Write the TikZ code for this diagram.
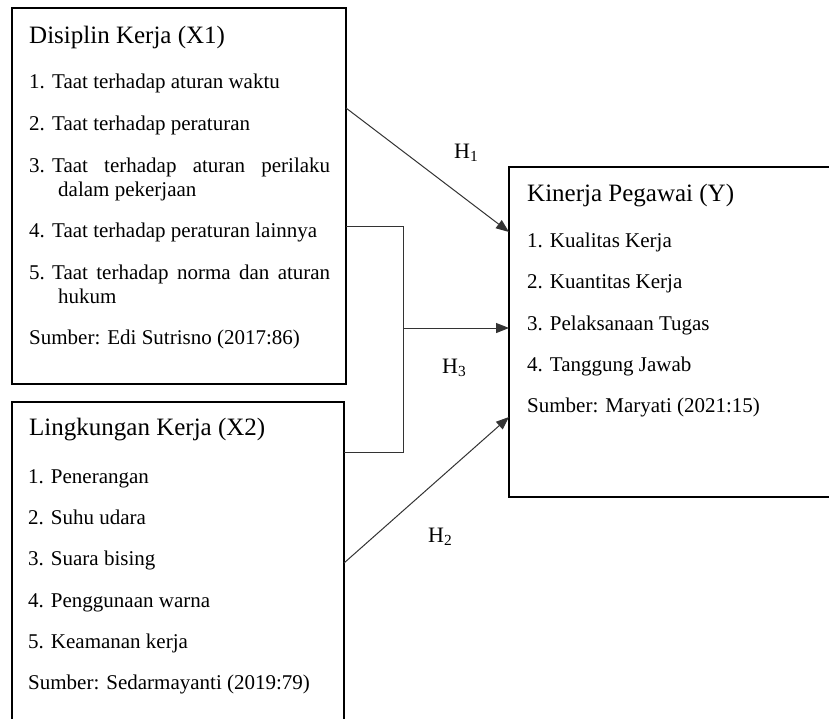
\documentclass[tikz,border=0pt]{standalone}
\usepackage{fontspec}
\setmainfont{Liberation Serif}
\usetikzlibrary{arrows.meta}
\begin{document}
\begin{tikzpicture}[x=1pt,y=-1pt,
  boxnode/.style={draw=black,line width=1.8pt,rectangle,inner sep=0pt,outer sep=0pt,anchor=north west},
  ttl/.style={anchor=base west,inner sep=0pt,font=\fontsize{25}{28}\selectfont},
  itm/.style={anchor=base west,inner sep=0pt,font=\fontsize{21}{24}\selectfont},
  conn/.style={draw=black!80,line width=1pt},
  arr/.style={conn,-{Triangle[length=13pt,width=10pt]}},
  hlbl/.style={anchor=base west,inner sep=0pt,font=\fontsize{22}{24}\selectfont}]
\useasboundingbox (0,0) rectangle (829,718);
\clip (0,0) rectangle (829,718);
\fill[white] (0,0) rectangle (829,718);
% boxes
\node[boxnode,minimum width=334pt,minimum height=376pt] (x1) at (12,8) {};
\node[boxnode,minimum width=332pt,minimum height=340pt] (x2) at (12,402) {};
\node[boxnode,minimum width=340pt,minimum height=330pt] (y) at (509,167) {};
% X1 texts
\node[ttl] (x1t) at (29,43) {Disiplin Kerja (X1)};
\node[itm] (x1n1) at (29,88) {1.};
\node[itm] (x1i1) at (52,88) {Taat terhadap aturan waktu};
\node[itm] (x1n2) at (29,130) {2.};
\node[itm] (x1i2) at (52,130) {Taat terhadap peraturan};
\node[itm] (x1n3) at (29,172) {3.};
\node[itm] (x1i3) at (52,172) {\makebox[278pt][s]{Taat terhadap aturan perilaku}};
\node[itm] (x1i3b) at (58,196) {dalam pekerjaan};
\node[itm] (x1n4) at (29,237) {4.};
\node[itm] (x1i4) at (52,237) {Taat terhadap peraturan lainnya};
\node[itm] (x1n5) at (29,279) {5.};
\node[itm] (x1i5) at (52,279) {\makebox[278pt][s]{Taat terhadap norma dan aturan}};
\node[itm] (x1i5b) at (58,303) {hukum};
\node[itm] (x1s) at (29,344) {Sumber: Edi Sutrisno (2017:86)};
% X2 texts
\node[ttl] (x2t) at (29,435) {Lingkungan Kerja (X2)};
\node[itm] (x2i1) at (28,483) {1. Penerangan};
\node[itm] (x2i2) at (28,524) {2. Suhu udara};
\node[itm] (x2i3) at (28,565) {3. Suara bising};
\node[itm] (x2i4) at (28,607) {4. Penggunaan warna};
\node[itm] (x2i5) at (28,648) {5. Keamanan kerja};
\node[itm] (x2s) at (28,689) {Sumber: Sedarmayanti (2019:79)};
% Y texts
\node[ttl] (yt) at (527,201) {Kinerja Pegawai (Y)};
\node[itm] (yi1) at (527,247) {1. Kualitas Kerja};
\node[itm] (yi2) at (527,288) {2. Kuantitas Kerja};
\node[itm] (yi3) at (527,330) {3. Pelaksanaan Tugas};
\node[itm] (yi4) at (527,371) {4. Tanggung Jawab};
\node[itm] (ys) at (527,412) {Sumber: Maryati (2021:15)};
% connector points
\coordinate (h1s) at (346,108);
\coordinate (h1e) at (509,232);
\coordinate (b1) at (346,226);
\coordinate (b2) at (403,226);
\coordinate (bm) at (403,328);
\coordinate (b3) at (403,452);
\coordinate (b4) at (344,452);
\coordinate (h3e) at (509,328);
\coordinate (h2s) at (344,563);
\coordinate (h2e) at (509,417);
% connectors
\draw[arr] (h1s) -- (h1e);
\draw[conn] (b1) -- (b2) -- (b3) -- (b4);
\draw[arr] (bm) -- (h3e);
\draw[arr] (h2s) -- (h2e);
% labels
\node[hlbl] (lh1) at (454,158) {H\textsubscript{1}};
\node[hlbl] (lh3) at (442,373) {H\textsubscript{3}};
\node[hlbl] (lh2) at (428,542) {H\textsubscript{2}};
\end{tikzpicture}
\end{document}
